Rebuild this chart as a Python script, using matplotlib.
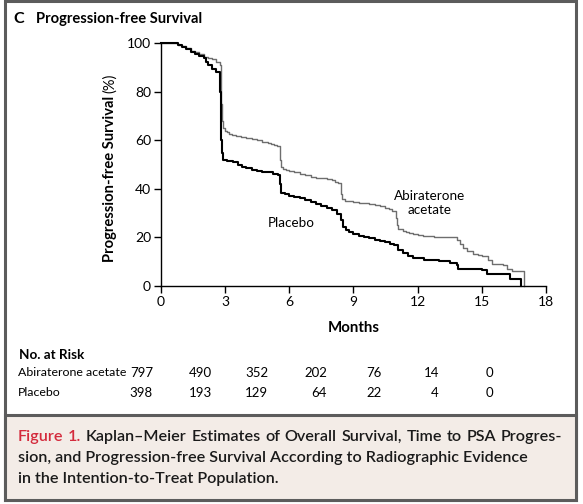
import matplotlib.pyplot as plt
from matplotlib.patches import Rectangle

# Curvas (meses, % libre de progresion)
meses_abi = [0, 0.5, 0.8, 1.0, 1.2, 1.4, 1.6, 1.8, 2.0, 2.2, 2.4, 2.6, 2.75, 2.8, 2.83, 2.86, 2.9,
             3.0, 3.1, 3.2, 3.35, 3.5, 3.75, 4.0, 4.25, 4.5, 4.75, 5.0, 5.15, 5.3, 5.45, 5.55, 5.6,
             5.7, 5.85, 6.0, 6.25, 6.5, 6.75, 7.0, 7.25, 7.5, 7.75, 8.0, 8.15, 8.3,
             8.4, 8.45, 8.6, 8.8, 9.0, 9.25, 9.5, 9.75, 10.0, 10.25, 10.5, 10.65, 10.8, 11.0, 11.05,
             11.1, 11.3, 11.45, 11.6, 11.8, 12.0, 12.25, 12.5, 12.75,
             13.0, 13.6, 13.85, 14.0, 14.1, 14.3, 14.6, 14.8, 15.0, 15.3, 15.5, 16.0, 16.2, 16.4, 16.95]
sobrev_abi = [100, 100, 99.5, 99, 98, 97, 96.5, 95.5, 94.5, 94, 93.5, 92.5, 91, 85, 75, 68, 65,
              64, 63.4, 62.8, 62.3, 61.8, 61.4, 61, 60.5, 60, 59.5, 59, 58.7, 58.3, 57.5, 52, 49,
              48.3, 47.9, 47.5, 46.8, 46.2, 45.6, 45, 44.7, 44.3, 43.9, 43.5, 43, 42.5,
              38, 36, 35.2, 34.9, 34.7, 34.3, 34, 33.7, 33.3, 32.8, 32.2, 31.6, 30.8, 28, 25,
              23.5, 22.5, 22.1, 21.7, 21.3, 21, 20.7, 20.4, 20.2,
              20.1, 20, 19, 17.5, 15.5, 14.5, 13.3, 12.8, 12.3, 10.9, 9.2, 8.8, 7.2, 6.3, 0]

meses_pla = [0, 0.5, 0.8, 1.0, 1.2, 1.4, 1.6, 1.8, 2.0, 2.1, 2.2, 2.4, 2.6, 2.75, 2.78, 2.8, 2.82,
             2.86, 2.92, 3.1, 3.25, 3.4, 3.6, 3.8, 4.0, 4.25, 4.5, 4.75, 5.0, 5.25, 5.5, 5.55, 5.6,
             5.8, 6.0, 6.25, 6.5, 6.75, 7.0, 7.25, 7.5, 7.75, 8.0,
             8.25, 8.4, 8.5, 8.65, 8.8, 9.0, 9.25, 9.5, 9.75, 10.0, 10.25, 10.5, 10.7, 10.9, 11.1,
             11.3, 11.55, 11.8, 12.3, 13.0, 13.5,
             13.85, 13.9, 15.0, 15.25, 16.2, 16.3, 16.85]
sobrev_pla = [100, 100, 99.2, 98.5, 97.5, 96.5, 95.5, 94.8, 93.8, 92.5, 91, 89.5, 88, 86.3, 80, 70, 60,
              55, 52, 51.6, 51.3, 51, 50, 49.2, 48.5, 47.8, 47.2, 47, 46.8, 46.3, 45.7, 42, 38.5,
              37.8, 37.2, 36.6, 36.1, 35.5, 34.8, 33.8, 32.8, 32.1, 31.5,
              29.5, 27, 24.5, 23.2, 22.4, 21.4, 20.8, 20.3, 19.7, 19.1, 18.7, 18.2, 17.5, 16.8, 15,
              13.5, 12.4, 11.4, 10.8, 10.2, 9.3,
              8.5, 6.9, 6.7, 5, 5, 2.7, 0]

ticks_x = [0, 3, 6, 9, 12, 15, 18]
ticks_y = [0, 20, 40, 60, 80, 100]

# Tabla de numero en riesgo
grupos = ["Abiraterone acetate", "Placebo"]
riesgo_abi = [797, 490, 352, 202, 76, 14, 0]
riesgo_pla = [398, 193, 129, 64, 22, 4, 0]

ANCHO, ALTO = 583, 504
plt.rcParams['font.family'] = ['Lato', 'DejaVu Sans']

fig = plt.figure(figsize=(ANCHO / 100, ALTO / 100), dpi=100)
rend = fig.canvas.get_renderer()


def px(x, y):
    # pixel (desde arriba a la izquierda) -> fraccion de figura
    return x / ANCHO, 1 - y / ALTO


# Marco y fondo del epigrafe
gris = '#5c5c5c'
x0, y0 = px(4.5, 500)
x1, y1 = px(575.5, 1)
fig.patches.append(Rectangle((x0, y0), x1 - x0, y1 - y0, transform=fig.transFigure,
                             facecolor='white', edgecolor=gris, linewidth=2.2, zorder=-2))
cx0, cy0 = px(4.5, 500)
cx1, cy1 = px(575.5, 415)
fig.patches.append(Rectangle((cx0, cy0), cx1 - cx0, cy1 - cy0, transform=fig.transFigure,
                             facecolor='#f3ece7', edgecolor=gris, linewidth=2.2, zorder=-1))

# Ejes
izq, abajo = px(160.7, 286)
der, arriba = px(546, 43.3)
ax = fig.add_axes([izq, abajo, der - izq, arriba - abajo])
ax.patch.set_alpha(0)

ax.step(meses_abi, sobrev_abi, where='post', color='#6e6e6e', linewidth=1.0, clip_on=False)
ax.step(meses_pla, sobrev_pla, where='post', color='black', linewidth=1.5, clip_on=False)

ax.set_xlim(0, 18)
ax.set_ylim(0, 100)
ax.set_xticks(ticks_x)
ax.set_yticks(ticks_y)
for lado in ['top', 'right']:
    ax.spines[lado].set_visible(False)
for lado in ['left', 'bottom']:
    ax.spines[lado].set_linewidth(1.0)
ax.tick_params(direction='out', length=5, width=1.0, labelsize=10, pad=2)

ax.text(12.56, 34.3, "Abiraterone\nacetate", ha='center', va='center', fontsize=9.7,
        linespacing=1.15)
ax.text(6.12, 26, "Placebo", ha='center', va='center', fontsize=9.7)

# Titulos
fig.text(*px(13, 19), "C", fontsize=11.5, fontweight='bold', va='center')
fig.text(*px(36, 19), "Progression-free Survival", fontsize=10.6, fontweight='bold', va='center')
etiq = fig.text(*px(110, 262), "Progression-free Survival", rotation=90, fontsize=10.6,
                fontweight='bold', ha='center', va='bottom')
alto_etiq = etiq.get_window_extent(rend).height
fig.text(*px(110, 262 - alto_etiq - 3), "(%)", rotation=90, fontsize=10.5,
         ha='center', va='bottom')
fig.text(*px(353.5, 328), "Months", fontsize=10.8, fontweight='bold', ha='center', va='center')

# Numero en riesgo
fig.text(*px(19, 355), "No. at Risk", fontsize=9.7, fontweight='bold', va='center')
bordes = [153, 212, 268, 327, 382, 439, 493]
for fila, (nombre, valores) in enumerate(zip(grupos, [riesgo_abi, riesgo_pla])):
    yy = 373 + fila * 20
    fig.text(*px(18, yy), nombre, fontsize=8.9, va='center')
    for xb, v in zip(bordes, valores):
        fig.text(*px(xb, yy), str(v), fontsize=9.5, ha='right', va='center')

# Epigrafe: primera linea justificada (palabra por palabra)
tam = 11.6
palabras = ["Figure", "1.", "Kaplan\u2013Meier", "Estimates", "of", "Overall", "Survival,",
            "Time", "to", "PSA", "Progres-"]
textos = []
for i, p in enumerate(palabras):
    color = '#d42a3c' if i < 2 else '#1a1a1a'
    textos.append(fig.text(0, 1 - 437 / ALTO, p, fontsize=tam, fontweight='semibold',
                           color=color, va='center'))
anchos = [t.get_window_extent(rend).width for t in textos]
hueco = (562 - 18 - sum(anchos)) / (len(palabras) - 1)
xx = 18
for t, w in zip(textos, anchos):
    t.set_x(xx / ANCHO)
    xx += w + hueco

fig.text(*px(18, 458), "sion, and Progression-free Survival According to Radiographic Evidence",
         fontsize=tam, fontweight='semibold', color='#1a1a1a', va='center')
fig.text(*px(18, 479), "in the Intention-to-Treat Population.",
         fontsize=tam, fontweight='semibold', color='#1a1a1a', va='center')

fig.savefig('out.png', dpi=100)
